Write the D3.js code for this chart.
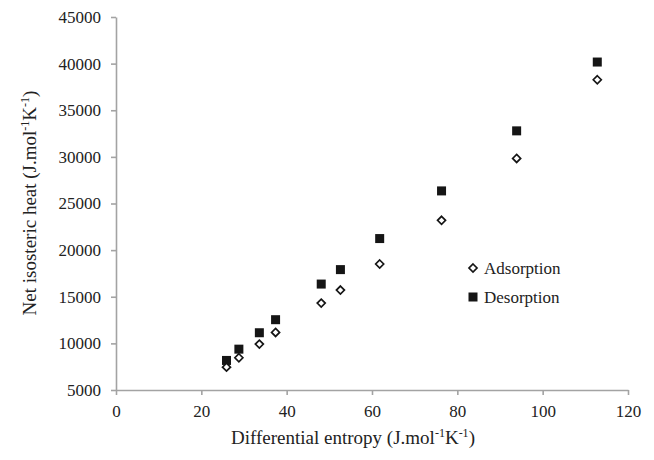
<!DOCTYPE html>
<html>
<head>
<meta charset="utf-8">
<script src="https://cdn.jsdelivr.net/npm/d3@7"></script>
<style>
  body { margin: 0; background: #fff; }
  text { font-family: "Liberation Serif", "Times New Roman", serif; fill: #222; }
</style>
</head>
<body>
<div id="chartContainer"></div>
<script>
// entropy values (x) shared by both series
const entropy = [25.9, 28.8, 33.6, 37.4, 48.1, 52.6, 61.8, 76.3, 93.9, 112.8];
const adsorption = [7450, 8460, 9920, 11170, 14320, 15720, 18510, 23200, 29830, 38270];
const desorption = [8170, 9380, 11140, 12540, 16360, 17910, 21240, 26350, 32790, 40170];
const xTicks = [0, 20, 40, 60, 80, 100, 120];
const yTicks = [5000, 10000, 15000, 20000, 25000, 30000, 35000, 40000, 45000];

const chartWidth = 654;
const chartHeight = 460;
const margin = { top: 17, right: 26, bottom: 70, left: 116 };
const width = chartWidth - margin.left - margin.right;
const height = chartHeight - margin.top - margin.bottom;
const axisColor = "#a3a3a3";

const svg = d3.select("#chartContainer").append("svg")
  .attr("width", chartWidth)
  .attr("height", chartHeight);

const g = svg.append("g")
  .attr("transform", `translate(${margin.left}, ${margin.top})`);

const xScale = d3.scaleLinear().domain([0, 120]).range([0, width]);
const yScale = d3.scaleLinear().domain([5000, 45000]).range([height, 0]);

// axes
const xAxis = g.append("g")
  .attr("transform", `translate(0, ${height})`)
  .call(d3.axisBottom(xScale).tickValues(xTicks).tickFormat(d3.format("d"))
    .tickSize(5).tickPadding(10).tickSizeOuter(0));
const yAxis = g.append("g")
  .call(d3.axisLeft(yScale).tickValues(yTicks).tickFormat(d3.format("d"))
    .tickSize(5).tickPadding(10).tickSizeOuter(0));

[xAxis, yAxis].forEach(ax => {
  ax.selectAll("path, line").attr("stroke", axisColor).attr("stroke-width", 1.6);
  ax.selectAll("text")
    .style("font-family", "'Liberation Serif', serif")
    .style("font-size", "17px")
    .attr("fill", "#222");
});

// series points
const adsData = entropy.map((x, i) => ({ x: x, y: adsorption[i] }));
const desData = entropy.map((x, i) => ({ x: x, y: desorption[i] }));

const diamond = s => `M0,${-s} L${s},0 L0,${s} L${-s},0 Z`;

g.selectAll(".des")
  .data(desData)
  .enter().append("rect")
  .attr("class", "des")
  .attr("x", d => xScale(d.x) - 4.5)
  .attr("y", d => yScale(d.y) - 4.5)
  .attr("width", 9)
  .attr("height", 9)
  .attr("fill", "#151515");

g.selectAll(".ads")
  .data(adsData)
  .enter().append("path")
  .attr("class", "ads")
  .attr("d", diamond(4))
  .attr("transform", d => `translate(${xScale(d.x)}, ${yScale(d.y)})`)
  .attr("fill", "#fff")
  .attr("stroke", "#151515")
  .attr("stroke-width", 1.7);

// legend
const legend = svg.append("g").attr("transform", "translate(473, 268)");
legend.append("path")
  .attr("d", diamond(4))
  .attr("fill", "#fff")
  .attr("stroke", "#151515")
  .attr("stroke-width", 1.7);
legend.append("text")
  .attr("x", 11).attr("y", 6)
  .style("font-size", "17px")
  .text("Adsorption");
legend.append("rect")
  .attr("x", -4.5).attr("y", 24.5)
  .attr("width", 9).attr("height", 9)
  .attr("fill", "#151515");
legend.append("text")
  .attr("x", 11).attr("y", 35)
  .style("font-size", "17px")
  .text("Desorption");

// axis titles with superscripts
function unitTitle(sel, label) {
  sel.append("tspan").text(label + " (J.mol");
  sel.append("tspan").attr("dy", -7).style("font-size", "12px").text("-1");
  sel.append("tspan").attr("dy", 7).text("K");
  sel.append("tspan").attr("dy", -7).style("font-size", "12px").text("-1");
  sel.append("tspan").attr("dy", 7).text(")");
}

const xTitle = svg.append("text")
  .attr("x", 353)
  .attr("y", 444)
  .attr("text-anchor", "middle")
  .style("font-size", "19px");
unitTitle(xTitle, "Differential entropy");

const yTitle = svg.append("text")
  .attr("transform", "translate(36, 203) rotate(-90)")
  .attr("text-anchor", "middle")
  .style("font-size", "19px");
unitTitle(yTitle, "Net isosteric heat");
</script>
</body>
</html>
